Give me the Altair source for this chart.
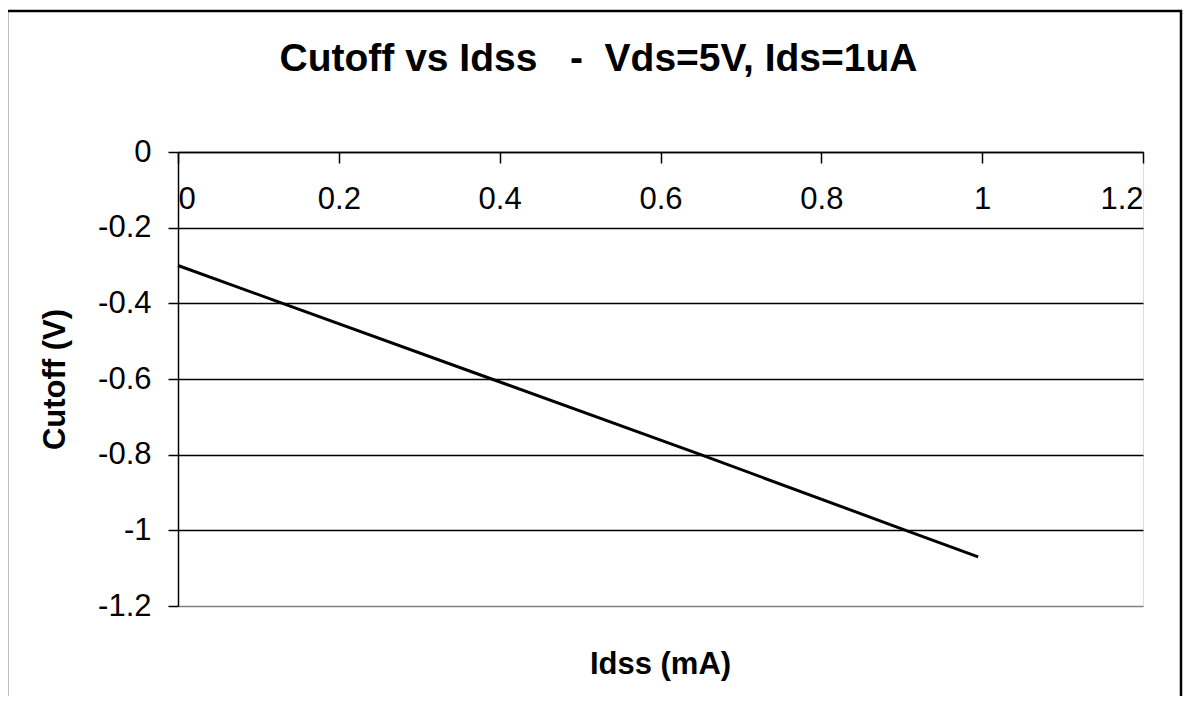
import altair as alt
import pandas as pd

# Data
idss_ma = [0.0, 0.13, 0.39, 0.65, 0.905, 0.995]
cutoff_v = [-0.30, -0.40, -0.60, -0.80, -1.00, -1.07]

x_ticks = [0, 0.2, 0.4, 0.6, 0.8, 1, 1.2]
y_ticks = [0, -0.2, -0.4, -0.6, -0.8, -1, -1.2]

title_text = "Cutoff vs Idss\u00a0\u00a0\u00a0-\u00a0\u00a0Vds=5V, Ids=1uA"
x_title = "Idss (mA)"
y_title = "Cutoff (V)"

FONT = "Liberation Sans"
W, H = 965, 454

df = pd.DataFrame({"idss": idss_ma, "cutoff": cutoff_v})

line = alt.Chart(df).mark_line(color="black", strokeWidth=3, clip=False).encode(
    x=alt.X(
        "idss:Q",
        scale=alt.Scale(domain=[0, 1.2], nice=False, zero=False),
        axis=alt.Axis(
            orient="bottom",
            offset=-H,
            values=x_ticks,
            labelExpr="'' + datum.value",
            grid=False,
            domainColor="black",
            domainWidth=1.5,
            tickColor="black",
            tickWidth=1.5,
            tickSize=11,
            labelPadding=21,
            labelFont=FONT,
            labelFontSize=31,
            labelColor="black",
            title=x_title,
            titleFont=FONT,
            titleFontSize=31,
            titleFontWeight="bold",
            titleColor="black",
            titleX=482,
            titleY=512,
            titleBaseline="middle",
            titleAlign="center",
        ),
    ),
    y=alt.Y(
        "cutoff:Q",
        scale=alt.Scale(domain=[-1.2, 0], nice=False, zero=False),
        axis=alt.Axis(
            orient="left",
            values=y_ticks,
            labelExpr="'' + datum.value",
            grid=True,
            gridColor={"condition": {"test": "datum.value < -1.1", "value": "#808080"}, "value": "black"},
            gridWidth=1.5,
            domainColor="black",
            domainWidth=1.5,
            tickColor="black",
            tickWidth=1.5,
            tickSize=10,
            labelPadding=17,
            labelFont=FONT,
            labelFontSize=31,
            labelColor="black",
            title=y_title,
            titleFont=FONT,
            titleFontSize=31,
            titleFontWeight="bold",
            titleColor="black",
            titleX=-123,
            titleY=227,
            titleBaseline="middle",
            titleAlign="center",
            titleAngle=270,
        ),
    ),
)

frame = alt.Chart(pd.DataFrame({"k": [0]})).mark_rect(
    fill="transparent", stroke="black", strokeWidth=2.5, clip=False
).encode(
    x=alt.value(-171), x2=alt.value(1003), y=alt.value(-141), y2=alt.value(580)
)

chart = alt.layer(frame, line).properties(
    width=W,
    height=H,
    autosize=alt.AutoSizeParams(type="none"),
    padding={"left": 170, "top": 144, "right": 40, "bottom": 90},
    title=alt.TitleParams(
        text=title_text,
        font=FONT,
        fontSize=39,
        fontWeight="bold",
        color="black",
        anchor="middle",
        frame="group",
        dx=-62,
        dy=73,
    ),
).configure_view(
    stroke="#808080", strokeWidth=2
).configure(background="white")

chart.save("out.html", embed_options={"renderer": "svg", "actions": False})
